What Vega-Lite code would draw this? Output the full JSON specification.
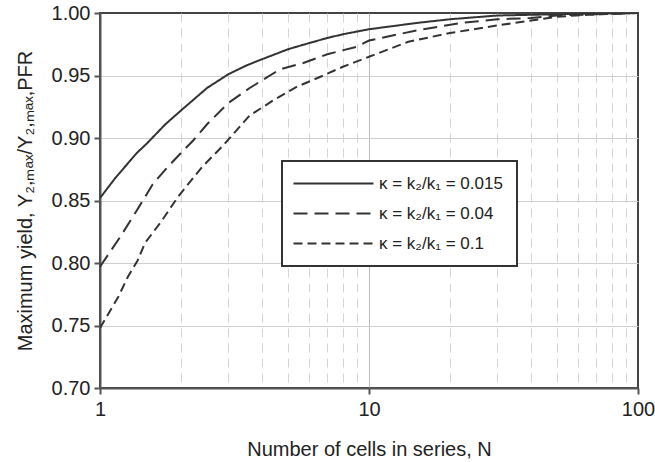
{
  "$schema": "https://vega.github.io/schema/vega-lite/v6.json",
  "width": 538,
  "height": 375,
  "autosize": {"type": "none"},
  "padding": {"left": 100, "top": 13, "right": 17, "bottom": 74},
  "background": "white",
  "config": {
    "font": "Liberation Sans",
    "view": {"stroke": "#444", "strokeWidth": 2},
    "legend": {"strokeWidth": 2}
  },
  "data": {
    "values": [
      {"N": 1, "Y": 0.852, "s": "κ = k₂/k₁ = 0.015"},
      {"N": 1.14, "Y": 0.868, "s": "κ = k₂/k₁ = 0.015"},
      {"N": 1.37, "Y": 0.888, "s": "κ = k₂/k₁ = 0.015"},
      {"N": 1.5, "Y": 0.896, "s": "κ = k₂/k₁ = 0.015"},
      {"N": 1.75, "Y": 0.911, "s": "κ = k₂/k₁ = 0.015"},
      {"N": 2, "Y": 0.922, "s": "κ = k₂/k₁ = 0.015"},
      {"N": 2.5, "Y": 0.94, "s": "κ = k₂/k₁ = 0.015"},
      {"N": 3, "Y": 0.951, "s": "κ = k₂/k₁ = 0.015"},
      {"N": 3.5, "Y": 0.958, "s": "κ = k₂/k₁ = 0.015"},
      {"N": 4, "Y": 0.963, "s": "κ = k₂/k₁ = 0.015"},
      {"N": 5, "Y": 0.971, "s": "κ = k₂/k₁ = 0.015"},
      {"N": 6, "Y": 0.976, "s": "κ = k₂/k₁ = 0.015"},
      {"N": 7, "Y": 0.98, "s": "κ = k₂/k₁ = 0.015"},
      {"N": 8, "Y": 0.983, "s": "κ = k₂/k₁ = 0.015"},
      {"N": 10, "Y": 0.987, "s": "κ = k₂/k₁ = 0.015"},
      {"N": 15, "Y": 0.992, "s": "κ = k₂/k₁ = 0.015"},
      {"N": 20, "Y": 0.995, "s": "κ = k₂/k₁ = 0.015"},
      {"N": 30, "Y": 0.998, "s": "κ = k₂/k₁ = 0.015"},
      {"N": 50, "Y": 0.999, "s": "κ = k₂/k₁ = 0.015"},
      {"N": 100, "Y": 1.0, "s": "κ = k₂/k₁ = 0.015"},
      {"N": 1, "Y": 0.797, "s": "κ = k₂/k₁ = 0.04"},
      {"N": 1.19, "Y": 0.821, "s": "κ = k₂/k₁ = 0.04"},
      {"N": 1.37, "Y": 0.842, "s": "κ = k₂/k₁ = 0.04"},
      {"N": 1.57, "Y": 0.863, "s": "κ = k₂/k₁ = 0.04"},
      {"N": 1.77, "Y": 0.876, "s": "κ = k₂/k₁ = 0.04"},
      {"N": 2, "Y": 0.888, "s": "κ = k₂/k₁ = 0.04"},
      {"N": 2.22, "Y": 0.898, "s": "κ = k₂/k₁ = 0.04"},
      {"N": 2.5, "Y": 0.911, "s": "κ = k₂/k₁ = 0.04"},
      {"N": 3, "Y": 0.928, "s": "κ = k₂/k₁ = 0.04"},
      {"N": 3.6, "Y": 0.94, "s": "κ = k₂/k₁ = 0.04"},
      {"N": 4.67, "Y": 0.955, "s": "κ = k₂/k₁ = 0.04"},
      {"N": 5.7, "Y": 0.96, "s": "κ = k₂/k₁ = 0.04"},
      {"N": 7, "Y": 0.967, "s": "κ = k₂/k₁ = 0.04"},
      {"N": 9, "Y": 0.973, "s": "κ = k₂/k₁ = 0.04"},
      {"N": 10, "Y": 0.978, "s": "κ = k₂/k₁ = 0.04"},
      {"N": 15, "Y": 0.986, "s": "κ = k₂/k₁ = 0.04"},
      {"N": 22, "Y": 0.992, "s": "κ = k₂/k₁ = 0.04"},
      {"N": 30, "Y": 0.995, "s": "κ = k₂/k₁ = 0.04"},
      {"N": 40, "Y": 0.996, "s": "κ = k₂/k₁ = 0.04"},
      {"N": 50, "Y": 0.998, "s": "κ = k₂/k₁ = 0.04"},
      {"N": 70, "Y": 0.999, "s": "κ = k₂/k₁ = 0.04"},
      {"N": 100, "Y": 1.0, "s": "κ = k₂/k₁ = 0.04"},
      {"N": 1, "Y": 0.748, "s": "κ = k₂/k₁ = 0.1"},
      {"N": 1.17, "Y": 0.773, "s": "κ = k₂/k₁ = 0.1"},
      {"N": 1.27, "Y": 0.789, "s": "κ = k₂/k₁ = 0.1"},
      {"N": 1.38, "Y": 0.802, "s": "κ = k₂/k₁ = 0.1"},
      {"N": 1.47, "Y": 0.816, "s": "κ = k₂/k₁ = 0.1"},
      {"N": 1.7, "Y": 0.834, "s": "κ = k₂/k₁ = 0.1"},
      {"N": 1.95, "Y": 0.853, "s": "κ = k₂/k₁ = 0.1"},
      {"N": 2.4, "Y": 0.877, "s": "κ = k₂/k₁ = 0.1"},
      {"N": 2.87, "Y": 0.894, "s": "κ = k₂/k₁ = 0.1"},
      {"N": 3.6, "Y": 0.918, "s": "κ = k₂/k₁ = 0.1"},
      {"N": 4.4, "Y": 0.93, "s": "κ = k₂/k₁ = 0.1"},
      {"N": 5.4, "Y": 0.941, "s": "κ = k₂/k₁ = 0.1"},
      {"N": 6.6, "Y": 0.949, "s": "κ = k₂/k₁ = 0.1"},
      {"N": 8, "Y": 0.957, "s": "κ = k₂/k₁ = 0.1"},
      {"N": 10, "Y": 0.965, "s": "κ = k₂/k₁ = 0.1"},
      {"N": 14, "Y": 0.977, "s": "κ = k₂/k₁ = 0.1"},
      {"N": 20, "Y": 0.984, "s": "κ = k₂/k₁ = 0.1"},
      {"N": 30, "Y": 0.99, "s": "κ = k₂/k₁ = 0.1"},
      {"N": 40, "Y": 0.994, "s": "κ = k₂/k₁ = 0.1"},
      {"N": 50, "Y": 0.997, "s": "κ = k₂/k₁ = 0.1"},
      {"N": 70, "Y": 0.999, "s": "κ = k₂/k₁ = 0.1"},
      {"N": 100, "Y": 1.0, "s": "κ = k₂/k₁ = 0.1"}
    ]
  },
  "mark": {"type": "line", "strokeWidth": 2, "color": "#333", "clip": true},
  "encoding": {
    "x": {
      "field": "N",
      "type": "quantitative",
      "scale": {"type": "log", "domain": [1, 100]},
      "axis": {
        "values": [1, 2, 3, 4, 5, 6, 7, 8, 9, 10, 20, 30, 40, 50, 60, 70, 80, 90, 100],
        "format": "d",
        "labelExpr": "(datum.value == 1 || datum.value == 10 || datum.value == 100) ? datum.label : ''",
        "labelOverlap": false,
        "labelFlush": false,
        "labelFontSize": 20,
        "labelColor": "#222",
        "labelPadding": 5,
        "tickSize": 6,
        "tickWidth": 2,
        "tickColor": "#555",
        "tickOpacity": {"condition": {"test": "datum.value == 1 || datum.value == 10 || datum.value == 100", "value": 1}, "value": 0},
        "domainColor": "#555",
        "domainWidth": 2,
        "grid": true,
        "gridColor": {"condition": {"test": "datum.value == 10", "value": "#bbbbbb"}, "value": "#d4d4d4"},
        "gridDash": {"condition": {"test": "datum.value == 10", "value": []}, "value": [9, 6]},
        "gridOpacity": {"condition": {"test": "datum.value == 1 || datum.value == 100", "value": 0}, "value": 1},
        "title": "Number of cells in series, N",
        "titleFontSize": 20,
        "titleFontWeight": "normal",
        "titleColor": "#222",
        "titlePadding": 20
      }
    },
    "y": {
      "field": "Y",
      "type": "quantitative",
      "scale": {"domain": [0.7, 1.0], "nice": false, "zero": false},
      "axis": {
        "values": [0.7, 0.75, 0.8, 0.85, 0.9, 0.95, 1.0],
        "format": ".2f",
        "labelFlush": false,
        "labelOverlap": false,
        "labelFontSize": 20,
        "labelColor": "#222",
        "labelPadding": 4,
        "tickSize": 6,
        "tickWidth": 2,
        "tickColor": "#555",
        "domainColor": "#555",
        "domainWidth": 2,
        "grid": true,
        "gridColor": "#cfcfcf",
        "gridOpacity": {"condition": {"test": "datum.value == 0.7 || datum.value == 1", "value": 0}, "value": 1},
        "title": "Maximum yield, Y₂,ₘₐₓ/Y₂,ₘₐₓ,PFR",
        "titleFontSize": 20,
        "titleFontWeight": "normal",
        "titleColor": "#222",
        "titlePadding": 16
      }
    },
    "strokeDash": {
      "field": "s",
      "type": "nominal",
      "scale": {
        "domain": ["κ = k₂/k₁ = 0.015", "κ = k₂/k₁ = 0.04", "κ = k₂/k₁ = 0.1"],
        "range": [[1, 0], [14, 7], [9, 5]]
      },
      "legend": {
        "orient": "none",
        "legendX": 182,
        "legendY": 148,
        "title": null,
        "symbolType": "M-8,0H8",
        "symbolSize": 100,
        "symbolOffset": 29,
        "symbolStrokeWidth": 2,
        "symbolStrokeColor": "#333",
        "labelFontSize": 17,
        "labelColor": "#222",
        "labelOffset": 37,
        "labelLimit": 300,
        "padding": 14,
        "rowPadding": 12,
        "strokeColor": "#333",
        "fillColor": "white"
      }
    }
  }
}
